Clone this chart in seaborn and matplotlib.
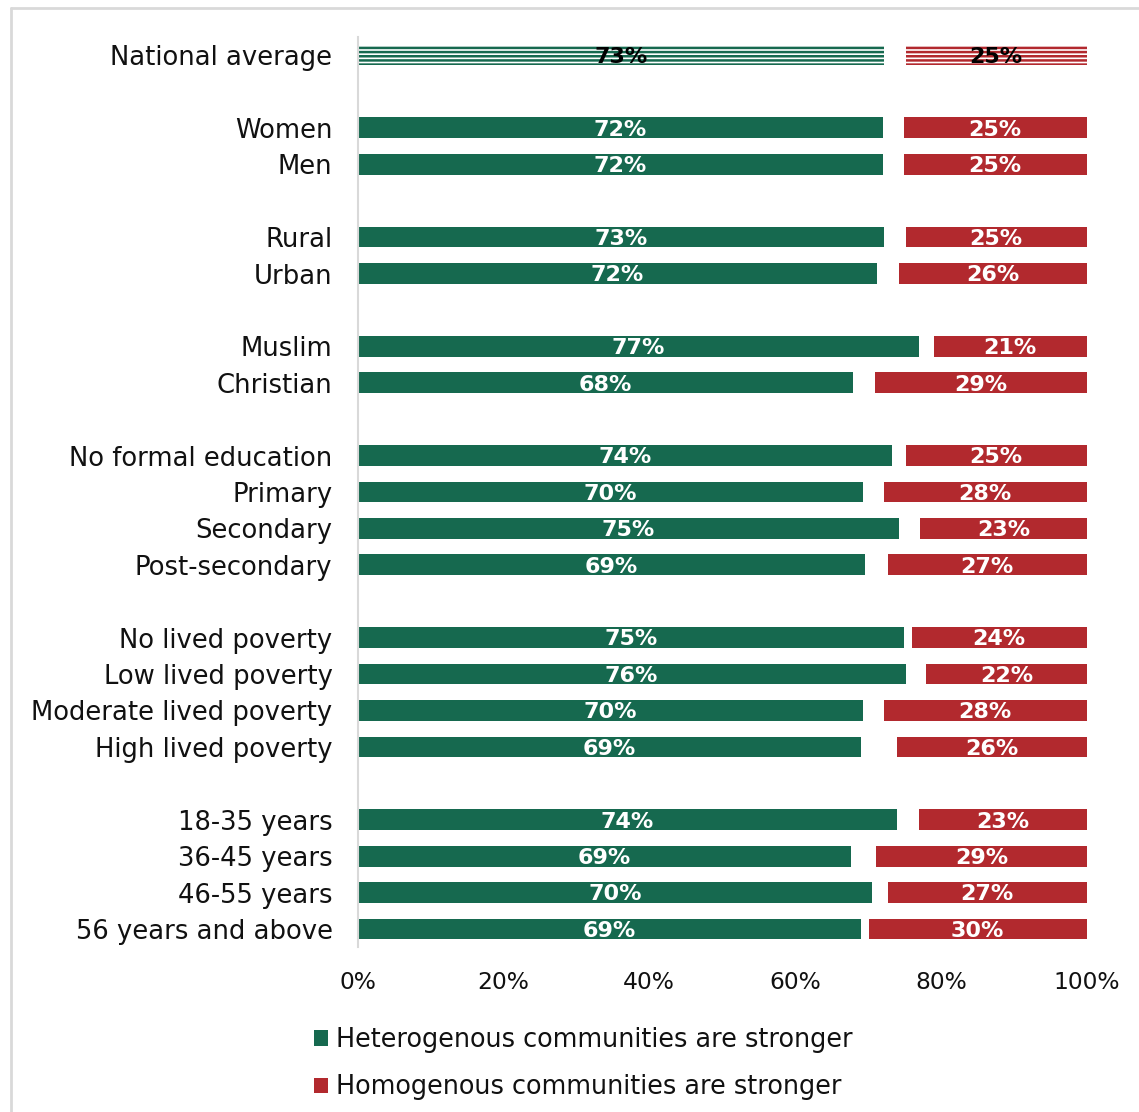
import matplotlib
matplotlib.use("Agg")
import matplotlib.pyplot as plt
from matplotlib.lines import Line2D
from matplotlib.patches import Patch
import seaborn as sns
import pandas as pd

# ---------------- data ----------------
categories = ["National average", "Women", "Men", "Rural", "Urban", "Muslim", "Christian",
              "No formal education", "Primary", "Secondary", "Post-secondary",
              "No lived poverty", "Low lived poverty", "Moderate lived poverty", "High lived poverty",
              "18-35 years", "36-45 years", "46-55 years", "56 years and above"]
row_positions = [0, 2, 3, 5, 6, 8, 9, 11, 12, 13, 14, 16, 17, 18, 19, 21, 22, 23, 24]
hetero_values = [72.2, 72.0, 72.0, 72.2, 71.2, 77.0, 68.0, 73.3, 69.3, 74.2, 69.6,
                 75.0, 75.2, 69.3, 69.0, 74.0, 67.7, 70.6, 69.1]
homo_values = [24.8, 25.1, 25.1, 24.8, 25.8, 21.0, 29.0, 24.8, 27.8, 22.8, 27.3,
               24.0, 22.0, 27.8, 26.0, 23.0, 28.9, 27.3, 29.9]
hetero_labels = ["73%", "72%", "72%", "73%", "72%", "77%", "68%", "74%", "70%", "75%", "69%",
                 "75%", "76%", "70%", "69%", "74%", "69%", "70%", "69%"]
homo_labels = ["25%", "25%", "25%", "25%", "26%", "21%", "29%", "25%", "28%", "23%", "27%",
               "24%", "22%", "28%", "26%", "23%", "29%", "27%", "30%"]
x_ticks = [0, 20, 40, 60, 80, 100]
x_tick_labels = ["0%", "20%", "40%", "60%", "80%", "100%"]
legend_labels = ["Heterogenous communities are stronger", "Homogenous communities are stronger"]

GREEN = "#16694F"
RED = "#B2292E"

df = pd.DataFrame({"pos": row_positions, "hetero": hetero_values, "homo": homo_values})
df["full"] = 100.0
df["gap_end"] = 100.0 - df["homo"]

sns.set_theme(style="white")
plt.rcParams["font.family"] = ["DejaVu Sans"]
plt.rcParams["hatch.linewidth"] = 1.8

W, H = 1139, 1112
fig = plt.figure(figsize=(W / 100, H / 100), dpi=100)
ax_left = 357.5 / W
ax_width = (1086.7 - 357.5) / W
ax_top = 1 - 36.8 / H
ax_bottom = 1 - 947.2 / H
ax = fig.add_axes([ax_left, ax_bottom, ax_width, ax_top - ax_bottom])

bar_h = 0.57

def draw(col, color):
    n0 = len(ax.patches)
    sns.barplot(data=df, x=col, y="pos", orient="h", native_scale=True,
                color=color, width=bar_h, linewidth=0, saturation=1, ax=ax)
    return ax.patches[n0:]

red_bars = draw("full", RED)
white_bars = draw("gap_end", "white")
green_bars = draw("hetero", GREEN)

# National average hatched
for bars, col in ((red_bars, RED), (green_bars, GREEN)):
    p = bars[0]
    p.set_facecolor("white")
    p.set_edgecolor(col)
    p.set_linewidth(0)
    p.set_hatch("----")

# Value labels
for i, (pos, hv, rv) in enumerate(zip(row_positions, hetero_values, homo_values)):
    c = "black" if i == 0 else "white"
    ax.text(hv / 2, pos + 0.05, hetero_labels[i], ha="center", va="center",
            color=c, fontsize=16, fontweight="bold")
    ax.text(100 - rv / 2, pos + 0.05, homo_labels[i], ha="center", va="center",
            color=c, fontsize=16, fontweight="bold")

ax.set_xlim(0, 100)
ax.set_ylim(24.5, -0.5)
ax.set_yticks(row_positions)
ax.set_yticklabels(categories, fontsize=18.6, color="#111111")
ax.set_xticks(x_ticks)
ax.set_xticklabels(x_tick_labels, fontsize=16.8, color="#111111")
ax.tick_params(axis="y", length=0, pad=18)
ax.tick_params(axis="x", length=0, pad=17)
ax.set_xlabel("")
ax.set_ylabel("")
for s in ["top", "right", "bottom"]:
    ax.spines[s].set_visible(False)
ax.spines["left"].set_color("#d9d9d9")
ax.spines["left"].set_linewidth(1.5)
ax.grid(False)

handles = [Patch(facecolor=GREEN, edgecolor="none"), Patch(facecolor=RED, edgecolor="none")]
leg = fig.legend(handles, legend_labels, loc="upper left",
                 bbox_to_anchor=(314 / W, 1 - 1027 / H), frameon=False,
                 fontsize=18.4, handlelength=0.55, handleheight=0.55, handletextpad=0.3,
                 labelspacing=0.84, borderaxespad=0, borderpad=0)
for t in leg.get_texts():
    t.set_color("#111111")

# outer chart border (light gray)
bc = "#d9d9d9"
fig.add_artist(Line2D([10.5 / W, 10.5 / W], [0, 1 - 7.5 / H], transform=fig.transFigure, color=bc, lw=2))
fig.add_artist(Line2D([10.5 / W, 1], [1 - 7.5 / H, 1 - 7.5 / H], transform=fig.transFigure, color=bc, lw=2))

fig.savefig("out.png", dpi=100)
